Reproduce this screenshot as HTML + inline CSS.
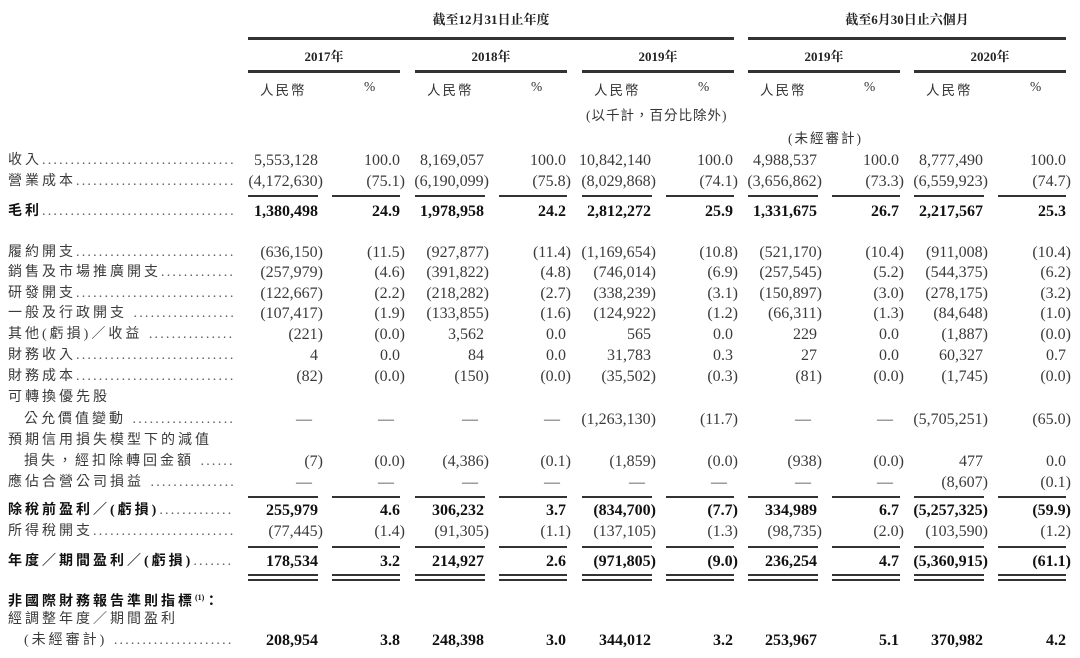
<!DOCTYPE html>
<html><head><meta charset="utf-8">
<style>
html,body{margin:0;padding:0;background:#fff;}
body{width:1080px;height:658px;position:relative;overflow:hidden;font-family:"Liberation Serif","Noto Serif CJK SC","Noto Sans CJK TC",serif;color:#3a3a3a;}
.r{position:absolute;left:0;width:1080px;height:20px;line-height:20px;font-size:16px;}
.b{font-weight:bold;color:#111;}
.lb{position:absolute;left:8px;width:226px;overflow:hidden;white-space:nowrap;font-family:"Liberation Serif","Noto Sans CJK TC",serif;font-size:14px;letter-spacing:3px;}
.lb .d{letter-spacing:2.2px;font-weight:normal;color:#555;}
.in{left:24px;width:210px;}
.v{position:absolute;white-space:nowrap;}
.q{transform:translateX(5px);}
.c0{right:762px}.c1{right:680px}.c2{right:596px}.c3{right:514px}.c4{right:429px}.c5{right:347px}.c6{right:263px}.c7{right:181px}.c8{right:97px}.c9{right:14px}
.ln{position:absolute;height:1.5px;background:#333;}
.hd{position:absolute;font-size:13px;font-weight:bold;color:#222;text-align:center;font-family:"Liberation Serif","Noto Serif CJK SC",serif;}
.sh{position:absolute;font-size:13.5px;color:#333;font-family:"Liberation Serif","Noto Sans CJK TC",serif;letter-spacing:2px;}
</style></head><body>

<div class="hd" style="left:248px;width:486px;top:9px;">截至12月31日止年度</div>
<div class="hd" style="left:748px;width:318px;top:9px;">截至6月30日止六個月</div>
<div class="ln" style="left:248px;width:486px;top:37px;height:2.5px;"></div>
<div class="ln" style="left:748px;width:318px;top:37px;height:2.5px;"></div>

<div class="hd" style="left:248px;width:152px;top:46px;">2017年</div>
<div class="hd" style="left:415px;width:152px;top:46px;">2018年</div>
<div class="hd" style="left:582px;width:152px;top:46px;">2019年</div>
<div class="hd" style="left:748px;width:152px;top:46px;">2019年</div>
<div class="hd" style="left:914px;width:152px;top:46px;">2020年</div>
<div class="ln" style="left:248px;width:152px;top:70px;height:2.5px;"></div>
<div class="ln" style="left:415px;width:152px;top:70px;height:2.5px;"></div>
<div class="ln" style="left:582px;width:152px;top:70px;height:2.5px;"></div>
<div class="ln" style="left:748px;width:152px;top:70px;height:2.5px;"></div>
<div class="ln" style="left:914px;width:152px;top:70px;height:2.5px;"></div>

<div class="sh" style="left:260px;top:79px;">人民幣</div><div class="sh" style="left:364px;top:79px;">%</div>
<div class="sh" style="left:427px;top:79px;">人民幣</div><div class="sh" style="left:531px;top:79px;">%</div>
<div class="sh" style="left:594px;top:79px;">人民幣</div><div class="sh" style="left:698px;top:79px;">%</div>
<div class="sh" style="left:760px;top:79px;">人民幣</div><div class="sh" style="left:864px;top:79px;">%</div>
<div class="sh" style="left:926px;top:79px;">人民幣</div><div class="sh" style="left:1030px;top:79px;">%</div>
<div class="sh" style="left:586px;top:104px;letter-spacing:1px;">(以千計，百分比除外)</div>
<div class="sh" style="left:788px;top:127px;">(未經審計)</div>

<div class="r" style="top:151px;"><div class="lb">收入<span class="d">..............................................</span></div>
<span class="v c0">5,553,128</span><span class="v c1">100.0</span><span class="v c2">8,169,057</span><span class="v c3">100.0</span><span class="v c4">10,842,140</span><span class="v c5">100.0</span><span class="v c6">4,988,537</span><span class="v c7">100.0</span><span class="v c8">8,777,490</span><span class="v c9">100.0</span></div>

<div class="r" style="top:172px;"><div class="lb">營業成本<span class="d">..............................................</span></div>
<span class="v q c0">(4,172,630)</span><span class="v q c1">(75.1)</span><span class="v q c2">(6,190,099)</span><span class="v q c3">(75.8)</span><span class="v q c4">(8,029,868)</span><span class="v q c5">(74.1)</span><span class="v q c6">(3,656,862)</span><span class="v q c7">(73.3)</span><span class="v q c8">(6,559,923)</span><span class="v q c9">(74.7)</span></div>

<div class="ln" style="left:248px;width:70px;top:195px;"></div><div class="ln" style="left:332px;width:68px;top:195px;"></div>
<div class="ln" style="left:415px;width:70px;top:195px;"></div><div class="ln" style="left:499px;width:68px;top:195px;"></div>
<div class="ln" style="left:582px;width:70px;top:195px;"></div><div class="ln" style="left:666px;width:68px;top:195px;"></div>
<div class="ln" style="left:748px;width:70px;top:195px;"></div><div class="ln" style="left:832px;width:68px;top:195px;"></div>
<div class="ln" style="left:914px;width:70px;top:195px;"></div><div class="ln" style="left:998px;width:68px;top:195px;"></div>

<div class="r b" style="top:202px;"><div class="lb">毛利<span class="d">..............................................</span></div>
<span class="v c0">1,380,498</span><span class="v c1">24.9</span><span class="v c2">1,978,958</span><span class="v c3">24.2</span><span class="v c4">2,812,272</span><span class="v c5">25.9</span><span class="v c6">1,331,675</span><span class="v c7">26.7</span><span class="v c8">2,217,567</span><span class="v c9">25.3</span></div>

<div class="r" style="top:243px;"><div class="lb">履約開支<span class="d">..............................................</span></div>
<span class="v q c0">(636,150)</span><span class="v q c1">(11.5)</span><span class="v q c2">(927,877)</span><span class="v q c3">(11.4)</span><span class="v q c4">(1,169,654)</span><span class="v q c5">(10.8)</span><span class="v q c6">(521,170)</span><span class="v q c7">(10.4)</span><span class="v q c8">(911,008)</span><span class="v q c9">(10.4)</span></div>

<div class="r" style="top:263px;"><div class="lb">銷售及市場推廣開支<span class="d">..............................................</span></div>
<span class="v q c0">(257,979)</span><span class="v q c1">(4.6)</span><span class="v q c2">(391,822)</span><span class="v q c3">(4.8)</span><span class="v q c4">(746,014)</span><span class="v q c5">(6.9)</span><span class="v q c6">(257,545)</span><span class="v q c7">(5.2)</span><span class="v q c8">(544,375)</span><span class="v q c9">(6.2)</span></div>

<div class="r" style="top:284px;"><div class="lb">研發開支<span class="d">..............................................</span></div>
<span class="v q c0">(122,667)</span><span class="v q c1">(2.2)</span><span class="v q c2">(218,282)</span><span class="v q c3">(2.7)</span><span class="v q c4">(338,239)</span><span class="v q c5">(3.1)</span><span class="v q c6">(150,897)</span><span class="v q c7">(3.0)</span><span class="v q c8">(278,175)</span><span class="v q c9">(3.2)</span></div>

<div class="r" style="top:304px;"><div class="lb">一般及行政開支 <span class="d">..............................................</span></div>
<span class="v q c0">(107,417)</span><span class="v q c1">(1.9)</span><span class="v q c2">(133,855)</span><span class="v q c3">(1.6)</span><span class="v q c4">(124,922)</span><span class="v q c5">(1.2)</span><span class="v q c6">(66,311)</span><span class="v q c7">(1.3)</span><span class="v q c8">(84,648)</span><span class="v q c9">(1.0)</span></div>

<div class="r" style="top:325px;"><div class="lb">其他(虧損)／收益 <span class="d">..............................................</span></div>
<span class="v q c0">(221)</span><span class="v q c1">(0.0)</span><span class="v c2">3,562</span><span class="v c3">0.0</span><span class="v c4">565</span><span class="v c5">0.0</span><span class="v c6">229</span><span class="v c7">0.0</span><span class="v q c8">(1,887)</span><span class="v q c9">(0.0)</span></div>

<div class="r" style="top:346px;"><div class="lb">財務收入<span class="d">..............................................</span></div>
<span class="v c0">4</span><span class="v c1">0.0</span><span class="v c2">84</span><span class="v c3">0.0</span><span class="v c4">31,783</span><span class="v c5">0.3</span><span class="v c6">27</span><span class="v c7">0.0</span><span class="v c8">60,327</span><span class="v c9">0.7</span></div>

<div class="r" style="top:367px;"><div class="lb">財務成本<span class="d">..............................................</span></div>
<span class="v q c0">(82)</span><span class="v q c1">(0.0)</span><span class="v q c2">(150)</span><span class="v q c3">(0.0)</span><span class="v q c4">(35,502)</span><span class="v q c5">(0.3)</span><span class="v q c6">(81)</span><span class="v q c7">(0.0)</span><span class="v q c8">(1,745)</span><span class="v q c9">(0.0)</span></div>

<div class="r" style="top:388px;"><div class="lb">可轉換優先股</div></div>

<div class="r" style="top:410px;"><div class="lb in">公允價值變動 <span class="d">..............................................</span></div>
<span class="v c0" style="right:768px">—</span><span class="v c1" style="right:686px">—</span><span class="v c2" style="right:602px">—</span><span class="v c3" style="right:520px">—</span><span class="v q c4">(1,263,130)</span><span class="v q c5">(11.7)</span><span class="v c6" style="right:269px">—</span><span class="v c7" style="right:187px">—</span><span class="v q c8">(5,705,251)</span><span class="v q c9">(65.0)</span></div>

<div class="r" style="top:431px;"><div class="lb">預期信用損失模型下的減值</div></div>

<div class="r" style="top:452px;"><div class="lb in">損失，經扣除轉回金額 <span class="d">..............................................</span></div>
<span class="v q c0">(7)</span><span class="v q c1">(0.0)</span><span class="v q c2">(4,386)</span><span class="v q c3">(0.1)</span><span class="v q c4">(1,859)</span><span class="v q c5">(0.0)</span><span class="v q c6">(938)</span><span class="v q c7">(0.0)</span><span class="v c8">477</span><span class="v c9">0.0</span></div>

<div class="r" style="top:473px;"><div class="lb">應佔合營公司損益 <span class="d">..............................................</span></div>
<span class="v c0" style="right:768px">—</span><span class="v c1" style="right:686px">—</span><span class="v c2" style="right:602px">—</span><span class="v c3" style="right:520px">—</span><span class="v c4" style="right:435px">—</span><span class="v c5" style="right:353px">—</span><span class="v c6" style="right:269px">—</span><span class="v c7" style="right:187px">—</span><span class="v q c8">(8,607)</span><span class="v q c9">(0.1)</span></div>

<div class="ln" style="left:248px;width:70px;top:496px;"></div><div class="ln" style="left:332px;width:68px;top:496px;"></div>
<div class="ln" style="left:415px;width:70px;top:496px;"></div><div class="ln" style="left:499px;width:68px;top:496px;"></div>
<div class="ln" style="left:582px;width:70px;top:496px;"></div><div class="ln" style="left:666px;width:68px;top:496px;"></div>
<div class="ln" style="left:748px;width:70px;top:496px;"></div><div class="ln" style="left:832px;width:68px;top:496px;"></div>
<div class="ln" style="left:914px;width:70px;top:496px;"></div><div class="ln" style="left:998px;width:68px;top:496px;"></div>

<div class="r b" style="top:501px;"><div class="lb">除稅前盈利／(虧損)<span class="d">..............................................</span></div>
<span class="v c0">255,979</span><span class="v c1">4.6</span><span class="v c2">306,232</span><span class="v c3">3.7</span><span class="v q c4">(834,700)</span><span class="v q c5">(7.7)</span><span class="v c6">334,989</span><span class="v c7">6.7</span><span class="v q c8">(5,257,325)</span><span class="v q c9">(59.9)</span></div>

<div class="r" style="top:522px;"><div class="lb">所得稅開支<span class="d">..............................................</span></div>
<span class="v q c0">(77,445)</span><span class="v q c1">(1.4)</span><span class="v q c2">(91,305)</span><span class="v q c3">(1.1)</span><span class="v q c4">(137,105)</span><span class="v q c5">(1.3)</span><span class="v q c6">(98,735)</span><span class="v q c7">(2.0)</span><span class="v q c8">(103,590)</span><span class="v q c9">(1.2)</span></div>

<div class="ln" style="left:248px;width:70px;top:546px;"></div><div class="ln" style="left:332px;width:68px;top:546px;"></div>
<div class="ln" style="left:415px;width:70px;top:546px;"></div><div class="ln" style="left:499px;width:68px;top:546px;"></div>
<div class="ln" style="left:582px;width:70px;top:546px;"></div><div class="ln" style="left:666px;width:68px;top:546px;"></div>
<div class="ln" style="left:748px;width:70px;top:546px;"></div><div class="ln" style="left:832px;width:68px;top:546px;"></div>
<div class="ln" style="left:914px;width:70px;top:546px;"></div><div class="ln" style="left:998px;width:68px;top:546px;"></div>

<div class="r b" style="top:552px;"><div class="lb">年度／期間盈利／(虧損)<span class="d">..............................................</span></div>
<span class="v c0">178,534</span><span class="v c1">3.2</span><span class="v c2">214,927</span><span class="v c3">2.6</span><span class="v q c4">(971,805)</span><span class="v q c5">(9.0)</span><span class="v c6">236,254</span><span class="v c7">4.7</span><span class="v q c8">(5,360,915)</span><span class="v q c9">(61.1)</span></div>

<div class="ln" style="left:248px;width:70px;top:574px;"></div><div class="ln" style="left:332px;width:68px;top:574px;"></div>
<div class="ln" style="left:415px;width:70px;top:574px;"></div><div class="ln" style="left:499px;width:68px;top:574px;"></div>
<div class="ln" style="left:582px;width:70px;top:574px;"></div><div class="ln" style="left:666px;width:68px;top:574px;"></div>
<div class="ln" style="left:748px;width:70px;top:574px;"></div><div class="ln" style="left:832px;width:68px;top:574px;"></div>
<div class="ln" style="left:914px;width:70px;top:574px;"></div><div class="ln" style="left:998px;width:68px;top:574px;"></div>
<div class="ln" style="left:248px;width:70px;top:579px;"></div><div class="ln" style="left:332px;width:68px;top:579px;"></div>
<div class="ln" style="left:415px;width:70px;top:579px;"></div><div class="ln" style="left:499px;width:68px;top:579px;"></div>
<div class="ln" style="left:582px;width:70px;top:579px;"></div><div class="ln" style="left:666px;width:68px;top:579px;"></div>
<div class="ln" style="left:748px;width:70px;top:579px;"></div><div class="ln" style="left:832px;width:68px;top:579px;"></div>
<div class="ln" style="left:914px;width:70px;top:579px;"></div><div class="ln" style="left:998px;width:68px;top:579px;"></div>

<div class="r b" style="top:588px;"><div class="lb">非國際財務報告準則指標<sup style="font-size:8px;letter-spacing:0">(1)</sup>：</div></div>
<div class="r" style="top:610px;"><div class="lb">經調整年度／期間盈利</div></div>

<div class="r" style="top:631px;"><div class="lb in">(未經審計) <span class="d">..............................................</span></div>
<span class="v b c0">208,954</span><span class="v b c1">3.8</span><span class="v b c2">248,398</span><span class="v b c3">3.0</span><span class="v b c4">344,012</span><span class="v b c5">3.2</span><span class="v b c6">253,967</span><span class="v b c7">5.1</span><span class="v b c8">370,982</span><span class="v b c9">4.2</span></div>

</body></html>
